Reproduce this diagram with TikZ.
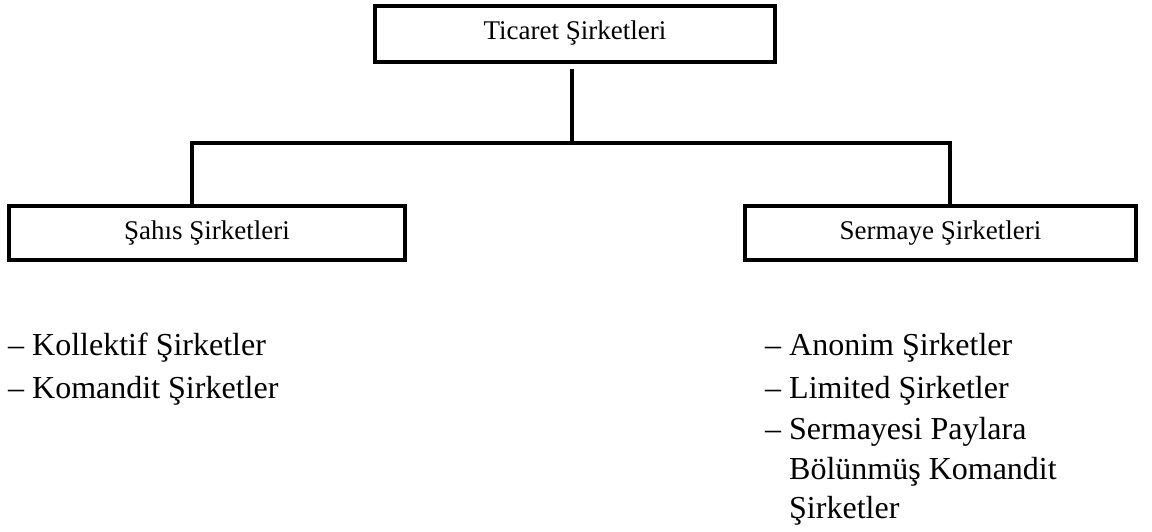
\documentclass[tikz,border=0pt]{standalone}
\usepackage{fontspec}
\setmainfont{Liberation Serif}
\begin{document}
\begin{tikzpicture}[x=1pt,y=-1pt,
  box/.style={draw=black,line width=4pt,inner sep=0pt,font=\fontsize{27}{30}\selectfont},
  conn/.style={draw=black,line width=4pt},
  item/.style={anchor=base west,inner sep=0pt,font=\fontsize{32}{41}\selectfont}]
\useasboundingbox (0,0) rectangle (1152,532);
\node[box,minimum width=400pt,minimum height=56pt] (top) at (575,34) {\strut Ticaret Şirketleri};
\node[box,minimum width=396pt,minimum height=54pt] (sahis) at (207,233) {\strut Şahıs Şirketleri};
\node[box,minimum width=391pt,minimum height=54pt] (sermaye) at (940.5,233) {\strut Sermaye Şirketleri};
\coordinate (j) at (572,143);
\draw[conn] ([xshift=-3pt,yshift=-5pt]top.south) -- (j);
\draw[conn] ([xshift=-15pt]sahis.north) |- (j);
\draw[conn] ([xshift=9.5pt]sermaye.north) |- (j);
\node[item] (l1) at (8,355) {– Kollektif Şirketler};
\node[item] (l2) at (8,398) {– Komandit Şirketler};
\node[item] (r1) at (765,355) {– Anonim Şirketler};
\node[item] (r2) at (765,398) {– Limited Şirketler};
\node[item] (r3) at (765,439) {– Sermayesi Paylara};
\node[item] (r4) at (765,479) {\phantom{– }Bölünmüş Komandit};
\node[item] (r5) at (765,518) {\phantom{– }Şirketler};
\end{tikzpicture}
\end{document}
